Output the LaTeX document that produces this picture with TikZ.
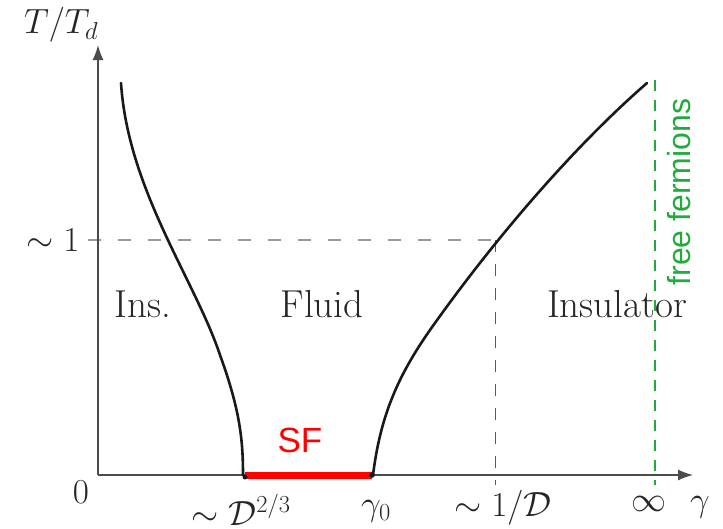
\documentclass[tikz,border=0pt]{standalone}
\usepackage{fix-cm}
\usepackage{fontspec}
\newfontfamily\sflabel{Liberation Sans}
\usetikzlibrary{arrows.meta}
\definecolor{fermgreen}{RGB}{34,170,60}
\tikzset{curve/.style={line width=2.6pt,line cap=round,black!90},
lbl/.style={inner sep=0pt,text=black!85}}

\begin{document}
\begin{tikzpicture}[x=1pt,y=-1pt,font=\fontsize{35}{40}\selectfont,>={Latex[length=15pt,width=11pt]}]
\useasboundingbox (0,0) rectangle (723,528);
\coordinate (O) at (98,475);\coordinate (ytip) at (98,45);\coordinate (xtip) at (693,475);
\coordinate (tick) at (88,240);\coordinate (cross) at (495,240);\coordinate (crossdown) at (495,485);
\coordinate (ftop) at (655,80);\coordinate (fbot) at (655,485);
% guide lines
\draw[dashed,black!40,line width=1.3pt,dash pattern=on 13pt off 17pt] (tick)--(cross);
\draw[dashed,black!65,line width=1pt,dash pattern=on 12pt off 12pt] (cross)--(crossdown);
\draw[dashed,fermgreen,line width=1.8pt,dash pattern=on 11pt off 9pt] (ftop)--(fbot);
% axes
\draw[->,line width=1.4pt,black!70] (O)--(ytip);
\draw[->,line width=1.4pt,black!70] (O)--(xtip);
% phase boundaries
\draw[curve] (121,83) .. controls (128,190) and (195,280) .. (220,355) .. controls (240,410) and (243,440) .. (243,475);
\draw[curve] (373,475) .. controls (380,420) and (395,380) .. (430,330) .. controls (490,245) and (570,150) .. (647,83);
\draw[red,line width=7pt] (245,475)--(372,475);
\fill[black!90] (245,477) circle (2.5pt) (372,475) circle (2.8pt);
% labels
\node[lbl] (tlab) at (61,25) {$T/T_d$};
\node[lbl] (one) at (53,240) {$\sim 1$};
\node[lbl] (zero) at (81,492) {$0$};
\foreach \x/\y/\t/\n in {241/510/{$\sim\mathcal{D}^{2/3}$}/dlow,376/511/{$\gamma_0$}/gzero,503/508/{$\sim 1/\mathcal{D}$}/dinv,649/504/{$\infty$}/inf,700/507/{$\gamma$}/gam}
  \node[lbl] (\n) at (\x,\y) {\t};
\foreach \x/\t/\n in {143/Ins./ins,322/Fluid/fluid,617/Insulator/insul}
  \node[lbl,font=\fontsize{39}{44}\selectfont] (\n) at (\x,304) {\t};
\node[lbl,text=red,font={\sflabel\fontsize{35}{40}\selectfont}] (sf) at (300,440) {SF};
\node[lbl,rotate=90,text=fermgreen,font={\sflabel\fontsize{32}{36}\selectfont}] (free) at (679,192) {free fermions};
\end{tikzpicture}
\end{document}
